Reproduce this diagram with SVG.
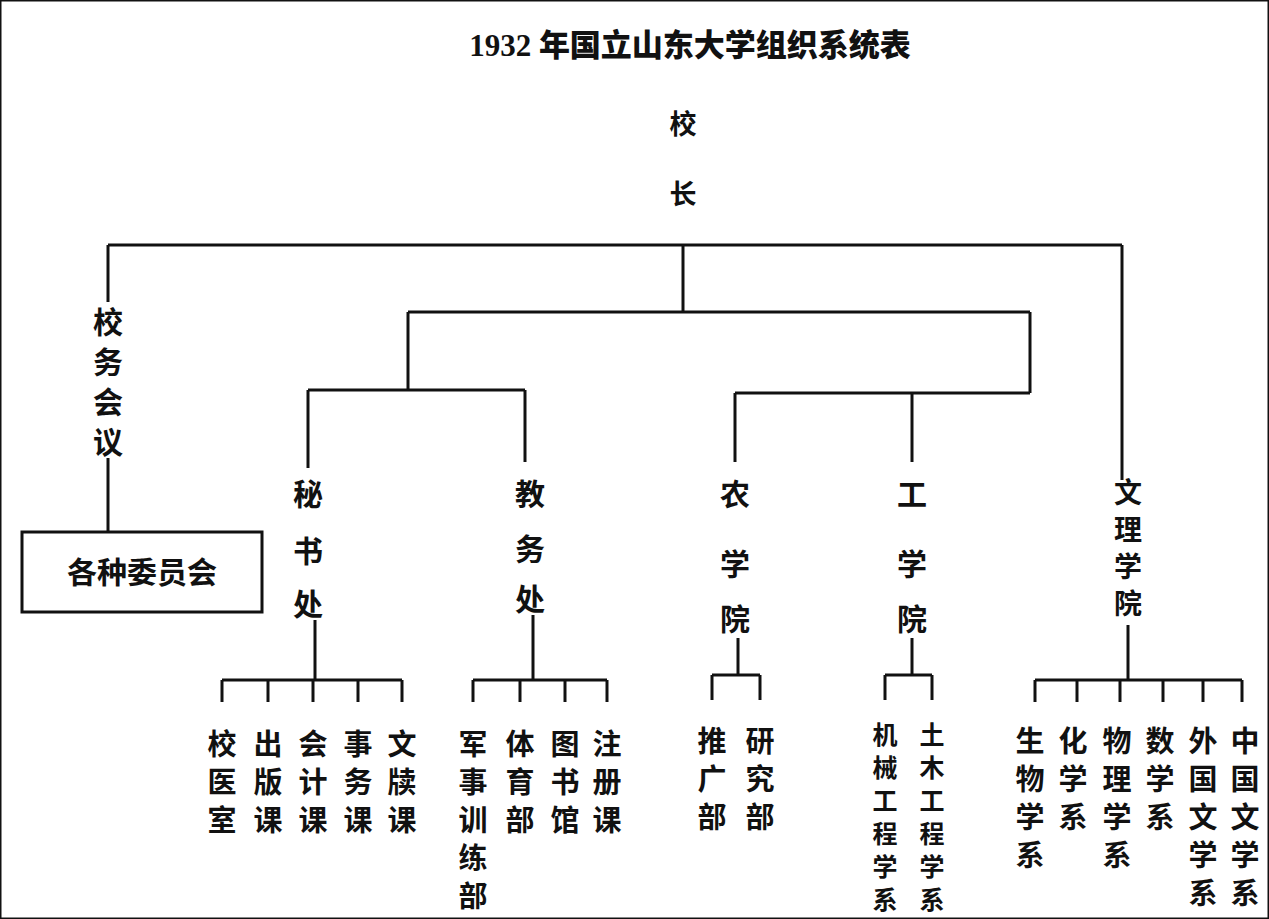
<svg xmlns="http://www.w3.org/2000/svg" width="1269" height="919" viewBox="0 0 1269 919">
<style>
text{font-family:"Noto Sans CJK SC","Liberation Sans",sans-serif;font-weight:bold;fill:#111;text-anchor:middle}
.t{font-size:27px}
.n{font-size:30px}
.w{font-size:28px}
.s{font-size:29px}
.g{font-size:25px}
line,rect{stroke:#111;stroke-width:3;fill:none}
</style>
<rect width="1269" height="919" fill="#fff" stroke="none"/>
<text x="690" y="56" style="font-size:31px;font-family:'Liberation Serif','Noto Sans CJK SC',serif;font-weight:900">1932 年国立山东大学组织系统表</text>
<g id="n-xiaozhang"><text class="t" x="683" y="134">校</text><text class="t" x="683" y="204">长</text></g>
<g id="connectors">
<line x1="108" y1="245" x2="1122" y2="245"/>
<line x1="683" y1="245" x2="683" y2="312"/>
<line x1="108" y1="245" x2="108" y2="302"/>
<line x1="108" y1="458" x2="108" y2="532"/>
<line x1="408" y1="312" x2="1030" y2="312"/>
<line x1="408" y1="312" x2="408" y2="390"/>
<line x1="308" y1="390" x2="525" y2="390"/>
<line x1="308" y1="390" x2="308" y2="468"/>
<line x1="525" y1="390" x2="525" y2="462"/>
<line x1="1030" y1="312" x2="1030" y2="393"/>
<line x1="735" y1="393" x2="1030" y2="393"/>
<line x1="735" y1="393" x2="735" y2="462"/>
<line x1="912" y1="393" x2="912" y2="462"/>
<line x1="1122" y1="245" x2="1122" y2="480"/>
<line x1="315" y1="620" x2="315" y2="680"/>
<line x1="222" y1="680" x2="402" y2="680"/>
<line x1="222" y1="680" x2="222" y2="702"/><line x1="268" y1="680" x2="268" y2="702"/><line x1="313" y1="680" x2="313" y2="702"/><line x1="358" y1="680" x2="358" y2="702"/><line x1="402" y1="680" x2="402" y2="702"/>
<line x1="533" y1="615" x2="533" y2="680"/>
<line x1="473" y1="680" x2="607" y2="680"/>
<line x1="473" y1="680" x2="473" y2="702"/><line x1="520" y1="680" x2="520" y2="702"/><line x1="565" y1="680" x2="565" y2="702"/><line x1="607" y1="680" x2="607" y2="702"/>
<line x1="738" y1="638" x2="738" y2="675"/>
<line x1="712" y1="675" x2="760" y2="675"/>
<line x1="712" y1="675" x2="712" y2="700"/><line x1="760" y1="675" x2="760" y2="700"/>
<line x1="912" y1="638" x2="912" y2="675"/>
<line x1="885" y1="675" x2="932" y2="675"/>
<line x1="885" y1="675" x2="885" y2="700"/><line x1="932" y1="675" x2="932" y2="700"/>
<line x1="1128" y1="625" x2="1128" y2="680"/>
<line x1="1035" y1="680" x2="1242" y2="680"/>
<line x1="1035" y1="680" x2="1035" y2="702"/><line x1="1077" y1="680" x2="1077" y2="702"/><line x1="1120" y1="680" x2="1120" y2="702"/><line x1="1163" y1="680" x2="1163" y2="702"/><line x1="1203" y1="680" x2="1203" y2="702"/><line x1="1242" y1="680" x2="1242" y2="702"/>
</g>
<g id="n-xiaowu"><text class="n" x="108" y="333">校</text><text class="n" x="108" y="373">务</text><text class="n" x="108" y="413">会</text><text class="n" x="108" y="453">议</text></g>
<g id="n-weiyuanhui"><rect x="22" y="532" width="240" height="80"/><text class="n" x="142" y="583">各种委员会</text></g>
<g id="n-mishu"><text class="n" x="308" y="505">秘</text><text class="n" x="308" y="562">书</text><text class="n" x="308" y="615">处</text></g>
<g id="n-jiaowu"><text class="n" x="530" y="505">教</text><text class="n" x="530" y="560">务</text><text class="n" x="530" y="610">处</text></g>
<g id="n-nong"><text class="n" x="735" y="505">农</text><text class="n" x="735" y="575">学</text><text class="n" x="735" y="630">院</text></g>
<g id="n-gong"><text class="n" x="912" y="505">工</text><text class="n" x="912" y="575">学</text><text class="n" x="912" y="630">院</text></g>
<g id="n-wenli"><text class="w" x="1128" y="503">文</text><text class="w" x="1128" y="540">理</text><text class="w" x="1128" y="577">学</text><text class="w" x="1128" y="614">院</text></g>
<g id="leaves">
<text class="s" x="222" y="755">校</text><text class="s" x="222" y="793">医</text><text class="s" x="222" y="831">室</text>
<text class="s" x="268" y="755">出</text><text class="s" x="268" y="793">版</text><text class="s" x="268" y="831">课</text>
<text class="s" x="313" y="755">会</text><text class="s" x="313" y="793">计</text><text class="s" x="313" y="831">课</text>
<text class="s" x="358" y="755">事</text><text class="s" x="358" y="793">务</text><text class="s" x="358" y="831">课</text>
<text class="s" x="402" y="755">文</text><text class="s" x="402" y="793">牍</text><text class="s" x="402" y="831">课</text>
<text class="s" x="473" y="755">军</text><text class="s" x="473" y="793">事</text><text class="s" x="473" y="831">训</text><text class="s" x="473" y="869">练</text><text class="s" x="473" y="907">部</text>
<text class="s" x="520" y="755">体</text><text class="s" x="520" y="793">育</text><text class="s" x="520" y="831">部</text>
<text class="s" x="565" y="755">图</text><text class="s" x="565" y="793">书</text><text class="s" x="565" y="831">馆</text>
<text class="s" x="607" y="755">注</text><text class="s" x="607" y="793">册</text><text class="s" x="607" y="831">课</text>
<text class="s" x="712" y="752">推</text><text class="s" x="712" y="790">广</text><text class="s" x="712" y="828">部</text>
<text class="s" x="760" y="752">研</text><text class="s" x="760" y="790">究</text><text class="s" x="760" y="828">部</text>
<text class="g" x="885" y="744">机</text><text class="g" x="885" y="777">械</text><text class="g" x="885" y="810">工</text><text class="g" x="885" y="843">程</text><text class="g" x="885" y="876">学</text><text class="g" x="885" y="909">系</text>
<text class="g" x="932" y="744">土</text><text class="g" x="932" y="777">木</text><text class="g" x="932" y="810">工</text><text class="g" x="932" y="843">程</text><text class="g" x="932" y="876">学</text><text class="g" x="932" y="909">系</text>
<text class="s" x="1030" y="752">生</text><text class="s" x="1030" y="790">物</text><text class="s" x="1030" y="828">学</text><text class="s" x="1030" y="866">系</text>
<text class="s" x="1073" y="752">化</text><text class="s" x="1073" y="790">学</text><text class="s" x="1073" y="828">系</text>
<text class="s" x="1117" y="752">物</text><text class="s" x="1117" y="790">理</text><text class="s" x="1117" y="828">学</text><text class="s" x="1117" y="866">系</text>
<text class="s" x="1160" y="752">数</text><text class="s" x="1160" y="790">学</text><text class="s" x="1160" y="828">系</text>
<text class="s" x="1203" y="752">外</text><text class="s" x="1203" y="790">国</text><text class="s" x="1203" y="828">文</text><text class="s" x="1203" y="866">学</text><text class="s" x="1203" y="904">系</text>
<text class="s" x="1245" y="752">中</text><text class="s" x="1245" y="790">国</text><text class="s" x="1245" y="828">文</text><text class="s" x="1245" y="866">学</text><text class="s" x="1245" y="904">系</text>
</g>
</svg>
